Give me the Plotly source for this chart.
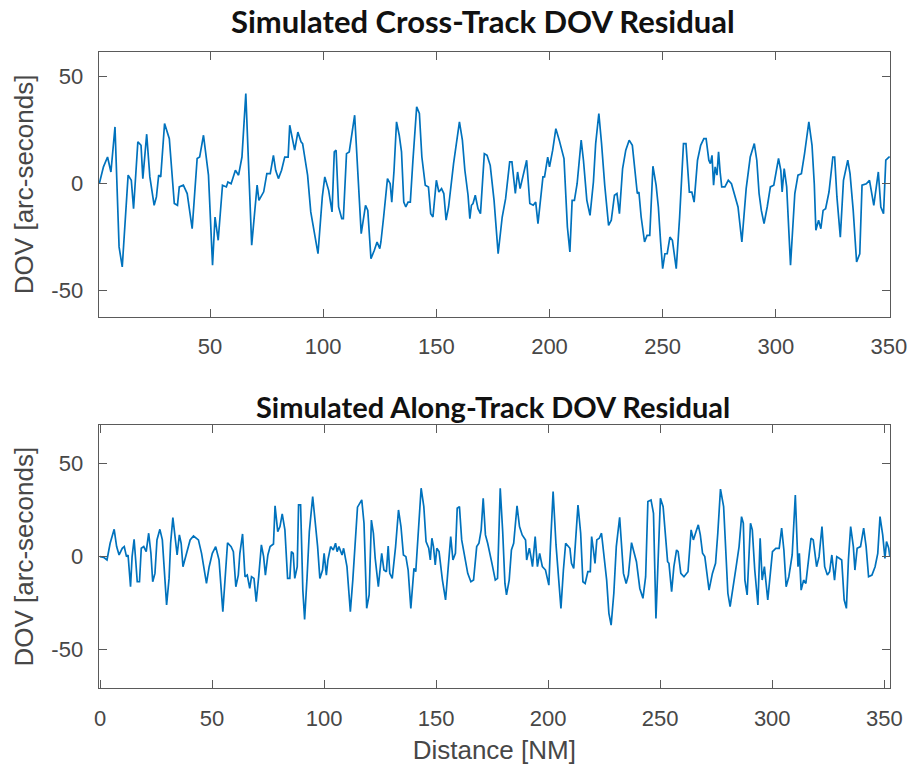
import plotly.graph_objects as go

# ---- Cross-track DOV residual (arc-seconds) vs distance (NM) ----
cross_x = [
    1.1, 2.9, 4.7, 6.2, 8.0, 9.8, 11.2, 12.4, 13.8, 15.2,
    16.2, 18.1, 19.5, 20.3, 22.0, 23.4, 25.3, 26.3, 27.3, 28.2,
    29.9, 32.0, 34.2, 35.6, 36.4, 38.2, 39.9, 42.1, 44.3, 45.4,
    47.1, 49.3, 51.1, 52.2, 53.6, 55.5, 57.2, 57.9, 59.3, 61.2,
    62.6, 64.1, 65.8, 68.4, 70.8, 71.6, 73.7, 75.1, 76.6, 78.0,
    79.0, 80.2, 81.6, 83.0, 84.5, 85.2, 86.6, 87.4, 88.8, 90.2,
    90.9, 93.1, 94.5, 96.0, 97.7, 99.6, 100.7, 102.4, 103.9, 104.9,
    105.7, 106.8, 108.2, 108.9, 110.3, 111.5, 113.9, 116.8, 118.7, 119.7,
    121.1, 122.6,
    123.8, 125.0, 125.5, 126.7, 128.4, 129.6, 130.3, 131.3, 132.4, 133.6,
    134.6, 135.6, 136.5, 137.5, 138.5, 139.6, 141.3, 142.5, 143.6, 145.1,
    146.5, 147.5, 148.5, 150.0, 151.1, 152.3, 153.3, 154.3, 155.4, 157.6,
    160.2, 161.5, 162.6, 164.0, 164.8, 165.5, 166.2, 167.2, 168.4, 169.5,
    171.2, 172.4, 173.8, 175.5, 177.3, 179.1, 180.6, 182.4, 183.4, 184.9,
    185.9, 187.0, 188.5, 189.9, 191.3, 192.8, 193.9, 194.9, 197.1, 197.8,
    199.2, 200.0, 201.4, 202.8, 204.3, 206.4, 207.9, 209.0, 210.0, 211.0,
    212.2, 214.0, 215.0, 216.5, 217.9, 219.4, 220.4, 221.8, 223.0, 224.4,
    226.1, 227.3, 228.7, 229.8, 230.9, 232.3, 233.7, 235.2, 236.6,
    238.1, 238.8, 239.5, 240.5, 242.0, 243.1, 244.3, 245.7, 247.1, 248.1,
    249.1, 250.0, 251.0, 252.0, 253.2, 254.3, 256.0, 257.5, 259.2, 260.3,
    261.8, 262.9, 263.9, 265.4, 266.8, 268.2, 269.2, 270.4, 271.1, 271.8,
    272.5, 273.2, 274.0, 274.7, 275.4, 276.1, 277.5, 279.0, 280.4, 281.9,
    283.3, 285.0, 286.9, 288.7, 290.5, 291.6, 292.6, 293.6, 294.8, 296.2,
    297.6, 299.1, 301.2, 302.2, 302.8, 303.7, 304.8, 306.5, 308.4, 309.8,
    311.3, 312.7, 314.6, 316.0, 317.0, 317.7, 318.9, 319.9, 320.9, 322.0,
    323.5, 325.2, 326.0, 327.0, 328.5, 329.9, 331.8, 332.8, 334.2, 335.7,
    337.1, 338.1, 340.0, 341.4, 343.3, 345.3, 346.4, 347.6, 348.6, 350.0,
    350.4,
]
cross_dov = [
    0.0, 7.7, 12.3, 5.3, 26.4, -29.8, -39.2, -18.9, 3.8, 1.4,
    -11.9, 19.4, 17.8, 2.2, 23.0, 3.0, -10.3, -6.4, 3.8, 3.0,
    28.0, 20.9, -9.5, -10.3, -1.7, -0.9, -4.8, -21.3, 11.6, 12.3,
    22.5, 3.8, -38.4, -15.8, -26.7, -0.9, -1.7, 0.6, -0.2, 6.1,
    3.8, 12.3, 42.0, -29.0, -0.9, -8.0, -4.0, 4.5, 4.5, 13.1,
    6.1, 2.2, 6.1, 12.3, 12.3, 27.2, 20.2, 15.5, 24.0, 19.4,
    18.6, 3.8, -13.4, -23.6, -33.0, -6.4, 3.0, -3.3, -13.4, 14.7,
    15.5, -11.1, -16.6, -16.6, 13.9, 14.7, 31.9, -23.6, -10.3, -12.7,
    -35.3, -31.4,
    -27.5, -30.6, -27.5, -15.8, 2.2, -0.2, -8.8, 6.1, 28.8, 22.5,
    14.7, -8.8, -11.1, -8.8, -8.8, 10.0, 35.8, 32.7, 12.3, -0.9,
    -1.7, -14.2, -15.8, 1.4, -4.1, -2.5, -4.8, -17.3, -11.1, 9.2,
    28.8, 20.2, 6.1, -5.6, -16.6, -10.3, -9.5, -5.6, -11.9, -14.2,
    13.9, 13.1, 8.4, -8.0, -33.0, -15.8, -7.2, 10.0, 10.0, -4.8,
    5.3, -2.5, 3.8, 10.8, -9.5, -10.3, -8.8, -18.9, 3.0, 3.0,
    12.3, 7.7, 15.5, 25.6, 20.2, 11.6, -20.5, -32.2, -8.0, -8.0,
    -0.2, 20.2, 10.8, -8.0, -15.0, 0.6, 18.6, 32.7, 18.6, -0.9,
    -19.7, -17.3, -5.6, -4.8, -14.2, 6.9, 15.5, 20.2, 17.8,
    -0.2, -4.8, -4.1, -15.8, -27.5, -24.4, -24.4, 8.0, -0.9, -11.1,
    -27.5, -40.0, -33.0, -33.0, -25.2, -26.7, -40.0, -15.8, 18.6, 18.6,
    -4.1, -4.1, -8.8, 10.8, 17.8, 20.9, 20.9, 10.8, 9.2, 13.1,
    -0.9, 7.7, 3.8, 14.7, 5.3, -1.7, -1.7, 1.4, -0.2, -5.6,
    -11.1, -27.5, -2.5, 12.3, 18.6, 10.8, -4.8, -12.7, -18.9, -11.1,
    -1.7, -0.9, 11.6, 6.1, -4.1, 6.9, -1.7, -38.4, -4.8, 3.8,
    4.5, 13.9, 28.8, 17.8, -0.2, -22.0, -17.3, -21.3, -12.7, -11.9,
    -4.1, 12.3, 12.3, -6.4, -25.2, 1.4, 10.8, 4.5, -12.7, -36.9,
    -33.0, -0.9, -0.2, 1.4, -10.3, 5.3, -11.1, -14.2, 10.8, 12.3,
    12.3,
]

# ---- Along-track DOV residual (arc-seconds) vs distance (NM) ----
along_x = [
    0.0, 1.6, 3.1, 4.5, 6.3, 7.4, 8.5, 9.9, 10.8, 11.8,
    12.5, 13.6, 14.3, 15.2, 15.9, 16.6, 17.6, 18.4, 19.5, 20.6,
    21.7, 22.7, 23.5, 24.5, 25.4, 26.7, 27.8, 29.7, 30.8, 31.5,
    32.5, 33.4, 34.4, 35.4, 36.2, 37.0, 38.8, 40.2, 41.7, 43.9,
    45.3, 47.5, 48.7, 50.1, 51.6, 53.1, 54.8, 56.0, 56.9, 58.5,
    59.5, 60.6, 61.7, 62.4, 63.6, 64.7, 65.7, 66.8, 67.6, 68.7,
    69.7, 70.8, 72.0, 73.0, 73.8, 74.9, 75.9, 77.4, 78.1, 79.3,
    80.3, 81.3, 82.5, 83.7, 84.7, 85.4, 86.2, 86.9, 88.0, 88.6,
    89.5, 90.5, 91.3, 92.4, 93.4, 94.9, 95.9, 97.1, 98.1, 99.3,
    100.0, 101.0, 101.7, 102.9, 104.1, 105.1, 105.8, 106.6, 108.0, 108.7,
    110.2, 111.7, 112.8, 113.8, 114.9, 116.8, 117.8, 119.0, 120.1, 121.1,
    122.0, 122.8, 124.2, 125.7, 126.7, 127.8, 128.6, 129.3, 130.4, 131.9,
    133.2, 134.3, 135.4, 136.5, 137.5, 138.7, 140.1, 140.9, 142.0, 143.3,
    144.5, 145.5, 146.7, 147.4, 148.1, 148.8, 149.6, 150.3, 151.3, 152.8,
    154.2, 155.4, 156.5, 157.5, 158.6, 159.4, 160.4, 161.4, 162.6, 164.1,
    165.5, 166.7, 168.1, 169.1, 170.1, 171.0, 172.0, 173.0, 174.9, 176.4,
    177.4, 178.6, 179.7, 180.7, 181.4, 182.6, 183.6, 184.6, 186.1, 187.2,
    188.4, 189.9, 190.4, 191.6, 192.3, 193.0, 194.2, 195.2, 196.2, 197.4,
    198.8, 200.3, 201.0, 202.2, 203.5, 204.6, 205.7, 206.8, 207.8, 209.7,
    210.4, 211.4, 213.3, 214.5, 215.5, 216.5, 217.7, 218.8, 219.4, 220.1,
    220.9, 221.7, 222.8, 223.8, 224.6, 226.1, 227.1, 228.1, 229.3, 230.4,
    231.9, 232.9, 233.6, 234.8, 235.8, 237.2, 238.3, 239.4, 240.9, 242.3,
    243.5, 244.5, 245.9, 247.0, 248.1, 249.3,
    250.1, 251.3, 252.5, 253.3, 253.9, 255.1, 256.1, 257.3, 258.0, 259.2,
    260.6, 262.4, 263.8, 264.8, 266.0, 267.0, 267.9, 268.9, 269.9, 271.8,
    273.3, 274.7, 275.7, 276.9, 278.3, 279.5, 280.2, 281.2, 282.4, 283.9,
    285.2, 286.3, 287.1, 287.8, 288.8, 290.3, 291.1, 292.2, 293.6, 294.6,
    295.5, 296.5, 298.0, 299.1, 300.1, 301.6, 303.1, 304.2, 305.2, 306.2,
    307.4, 308.9, 310.3, 311.5, 312.1, 312.9, 314.0, 315.0, 316.1, 317.3,
    318.3, 319.8, 320.9, 322.2, 323.4, 324.6, 325.6, 326.6, 327.8, 328.8,
    329.9, 331.0, 332.1, 333.1, 334.0, 335.0, 336.2, 336.9, 337.9, 339.4,
    340.8, 341.9, 343.0, 344.5, 345.9, 347.1, 348.1, 349.3, 350.3, 351.0,
    352.0, 352.5,
]
along_dov = [
    0.0, -0.4, -1.8, 7.2, 14.7, 5.4, 0.9, 4.5, 5.4, 0.0,
    0.9, -16.2, 0.0, 9.3, -1.8, -13.5, -13.5, 4.5, 5.4, 2.7,
    12.6, 1.8, -13.5, -9.0, 9.0, 14.7, 9.0, -26.0, -11.7, 7.2,
    21.0, 12.6, 0.9, 11.7, 7.2, -5.4, 3.6, 9.0, 11.1, 9.0,
    1.8, -14.4, -5.4, 1.8, 5.4, -1.8, -29.6, -10.8, 7.5, 5.4,
    2.7, -16.2, -9.9, 1.8, 12.2, -10.8, -9.9, -17.1, -10.8, -11.7,
    -24.2, -10.8, 6.3, 0.0, -9.9, 0.9, 5.4, 6.8, 27.3, 13.5,
    16.2, 23.0, 14.4, -11.7, -11.7, 2.7, 1.8, -11.7, -5.4, 27.8,
    27.8, -18.0, -33.8, -10.8, 13.5, 32.3, 19.7, 5.4, -11.7, -7.2,
    1.8, -9.9, -1.8, 5.4, 3.6, 7.2, 2.7, 5.4, 0.9, 4.5,
    -5.4, -29.6, -12.6, 9.0, 26.6, 30.5, 18.0, -27.8, -20.6, 19.7,
    12.6, -0.9, -16.2, 1.8, -7.2, -8.1, 5.7, -9.0, -11.7, 5.4,
    25.1, 16.2, 0.9, 0.0, -7.2, -27.8, -6.3, -8.1, 14.4, 36.8,
    26.9, 8.1, 4.5, -1.8, 9.9, 5.4, -4.5, 4.5, 2.7, -12.6,
    -23.3, -5.4, 10.8, -1.8, 1.8, 26.0, 26.9, 9.0, 0.9, -9.0,
    -13.5, -12.6, 5.4, 7.2, 14.4, 31.4, 11.7, 7.2, -3.6, -12.6,
    -11.7, 36.8, 13.5, -14.4, -20.6, -12.6, 3.6, 7.2, 27.3, 16.2,
    11.7, 9.0, -1.8, 4.5, 0.0, -5.4, 10.8, -5.4, 1.8, -5.4,
    -7.2, -15.3, 5.4, 35.0, 6.3, -13.5, -27.8, -7.2, 7.2, 4.5,
    -3.6, -6.3, 27.8, 12.6, -13.5, -14.4, -8.1, -8.1, 10.8, 4.5,
    -3.6, 9.0, 9.9, 12.6, 3.6, -12.6, -30.5, -36.8, -19.7, 5.4,
    21.2, 5.4, -9.0, -14.4, -9.9, 7.5, 2.7, -2.7, -17.1, -22.4,
    -10.8, 29.6, 30.5, 23.3, -33.2, 2.7,
    31.4, 26.9, 7.2, -2.7, -3.6, -18.9, -5.4, 3.6, 2.7, -9.0,
    -10.8, -8.1, 14.4, 9.0, 13.5, 17.1, 11.7, 1.8, 0.0, -18.0,
    -9.0, -3.6, 12.6, 36.3, 26.9, 1.8, -19.7, -26.9, -16.2, -5.4,
    5.4, 21.5, 18.0, -12.6, -20.6, 18.0, 14.4, -7.2, -26.0, 9.9,
    -12.6, -5.4, -23.3, -7.2, 2.7, 4.5, 4.5, 15.3, 3.6, -16.2,
    -10.8, 0.9, 33.2, -5.4, 1.8, -18.0, -12.6, -14.4, -1.8, 9.9,
    9.0, -5.4, 0.0, 16.2, -5.4, -9.9, -8.1, 0.9, -12.6, 0.0,
    -0.9, -1.8, -23.3, -27.8, -1.8, 16.2, 5.4, -7.2, 4.5, 5.4,
    15.3, 5.4, -10.8, -9.9, -5.4, 1.8, 21.5, 11.7, -0.9, 8.1,
    4.5, 0.0,
]

assert len(cross_x) == len(cross_dov)
assert len(along_x) == len(along_dov)

# Tick positions and labels
y_ticks = [-50, 0, 50]
y_tick_text = ["-50", "0", "50"]
cross_x_ticks = [50, 100, 150, 200, 250, 300, 350]
along_x_ticks = [0, 50, 100, 150, 200, 250, 300, 350]

titles = ["Simulated Cross-Track DOV Residual", "Simulated Along-Track DOV Residual"]
y_label = "DOV [arc-seconds]"
x_label = "Distance [NM]"

W, H = 922, 766
LINE_BLUE = "#0072BD"
AX_GRAY = "#5a5a5a"
TXT_GRAY = "#474747"
TICK_FONT = dict(family="Liberation Sans, Arial, sans-serif", size=22, color=TXT_GRAY)
LABEL_FONT = dict(family="Liberation Sans, Arial, sans-serif", size=26, color=TXT_GRAY)
TITLE_FAMILY = "Lato, Carlito, sans-serif"

x_dom = [96 / W, 906.5 / W]
top_dom = [1 - 316.7 / H, 1 - 52 / H]
bot_dom = [1 - 688.3 / H, 1 - 425 / H]


def axis_style(**kw):
    base = dict(
        showline=True, linecolor=AX_GRAY, linewidth=1.3, mirror="ticks",
        ticks="inside", ticklen=8, tickwidth=1.2, tickcolor=AX_GRAY,
        showgrid=False, zeroline=False, tickfont=TICK_FONT,
    )
    base.update(kw)
    return base


fig = go.Figure()
fig.add_trace(go.Scatter(x=cross_x, y=cross_dov, mode="lines",
                         line=dict(color=LINE_BLUE, width=1.7),
                         xaxis="x", yaxis="y", hoverinfo="x+y"))
fig.add_trace(go.Scatter(x=along_x, y=along_dov, mode="lines",
                         line=dict(color=LINE_BLUE, width=1.7),
                         xaxis="x2", yaxis="y2", hoverinfo="x+y"))

fig.update_layout(
    width=W, height=H,
    margin=dict(l=0, r=0, t=0, b=0),
    paper_bgcolor="white", plot_bgcolor="white",
    showlegend=False,
    xaxis=axis_style(domain=x_dom, anchor="y", range=[0.8, 350.4],
                     tickvals=cross_x_ticks, ticklabelstandoff=10),
    yaxis=axis_style(domain=top_dom, anchor="x", range=[-62.5, 61.5],
                     tickvals=y_ticks, ticktext=y_tick_text, ticklabelstandoff=10,
                     title=dict(text=y_label, font=LABEL_FONT, standoff=10)),
    xaxis2=axis_style(domain=x_dom, anchor="y2", range=[-0.6, 352.5],
                      tickvals=along_x_ticks, ticklabelstandoff=10,
                      title=dict(text=x_label, font=LABEL_FONT, standoff=10)),
    yaxis2=axis_style(domain=bot_dom, anchor="x2", range=[-70.8, 70.8],
                      tickvals=y_ticks, ticktext=y_tick_text, ticklabelstandoff=10,
                      title=dict(text=y_label, font=LABEL_FONT, standoff=10)),
    annotations=[
        dict(text="<b>" + titles[0] + "</b>", xref="paper", yref="paper",
             x=490 / W, y=1 - 21 / H, xanchor="center", yanchor="middle",
             showarrow=False, font=dict(family=TITLE_FAMILY, size=31, color="#111111")),
        dict(text="<b>" + titles[1] + "</b>", xref="paper", yref="paper",
             x=500 / W, y=1 - 406 / H, xanchor="center", yanchor="middle",
             showarrow=False, font=dict(family=TITLE_FAMILY, size=29, color="#111111")),
    ],
)

fig.write_html("out.html")
